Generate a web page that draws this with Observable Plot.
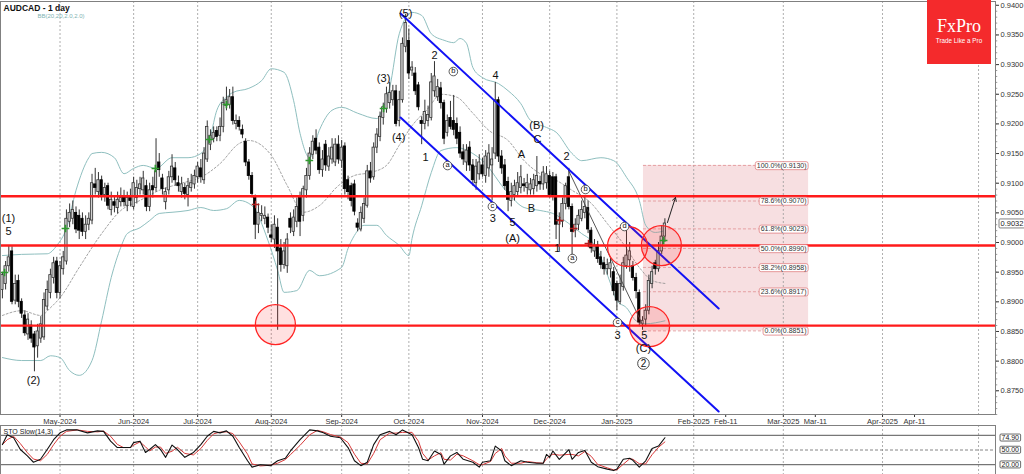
<!DOCTYPE html>
<html><head><meta charset="utf-8">
<script src="https://cdn.jsdelivr.net/npm/d3@7"></script>
<script src="https://cdn.jsdelivr.net/npm/@observablehq/plot@0.6"></script>
<style>
body{margin:0;background:#fff;font-family:"Liberation Sans",Arial,sans-serif;}
#wrap{position:relative;width:1024px;height:474px;overflow:hidden;background:#fff;}
#wrap svg{display:block;}
#logo{position:absolute;left:927px;top:0;width:64px;height:64px;background:#f42a2c;color:#fff;text-align:center;}
#logo .b{font-family:"Liberation Serif","DejaVu Serif",serif;font-size:18px;position:absolute;left:0;right:0;top:17px;line-height:18px;}
#logo .s{font-family:"Liberation Sans",Arial,sans-serif;font-size:6.3px;position:absolute;left:0;right:0;top:37px;}
</style></head><body><div id="wrap"><div id="logo"><div class="b">FxPro</div><div class="s">Trade Like a Pro</div></div></div>
<script>
// ---------- data ----------
const firstDay = "2024-04-05", lastDay = "2025-01-23";
const holidays = ["2024-12-25", "2025-01-01"];
const open = [.8920,.8930,.8960,.8985,.8902,.8935,.8900,.8877,.8845,.8860,.8845,.8825,.8838,.8840,.8892,.8915,.8940,.8968,.8915,.8955,
.8968,.9035,.9040,.9050,.9045,.9040,.9018,.9030,.9037,.9098,.9085,.9105,.9080,.9095,.9055,.9068,.9058,.9068,.9075,.9062,
.9075,.9060,.9075,.9090,.9088,.9095,.9060,.9095,.9092,.9135,.9108,.9068,.9088,.9110,.9125,.9100,.9085,.9092,.9080,.9092,
.9098,.9110,.9125,.9105,.9140,.9165,.9175,.9188,.9180,.9195,.9230,.9232,.9245,.9200,.9205,.9190,.9170,.9135,.9112,.9075,
.9030,.9045,.9040,.9042,.9012,.9005,.9025,.8990,.8962,.8960,.9040,.9018,.9035,.9075,.9045,.9088,.9112,.9148,.9175,.9160,
.9122,.9165,.9128,.9140,.9135,.9165,.9138,.9162,.9105,.9095,.9098,.9032,.9022,.9040,.9062,.9120,.9110,.9160,.9178,.9210,
.9225,.9235,.9240,.9255,.9205,.9240,.9330,.9340,.9290,.9285,.9265,.9205,.9200,.9205,.9210,.9255,.9245,.9260,.9235,.9185,
.9210,.9205,.9200,.9185,.9152,.9135,.9160,.9130,.9100,.9115,.9130,.9112,.9125,.9130,.9150,.9240,.9145,.9130,.9102,.9070,
.9080,.9085,.9092,.9098,.9092,.9088,.9090,.9095,.9102,.9098,.9100,.9112,.9110,.9110,.9030,.9035,.9065,.9110,.9060,.9020,
.9030,.9040,.9050,.9058,.9020,.8985,.8995,.8975,.8965,.8955,.8955,.8950,.8930,.8900,.8925,.8960,.8970,.8960,.8940,.8915,
.8862,.8870,.8885,.8930,.8965,.8955,.8985,.9010];
const high = [.8950,.8968,.8995,.8993,.8945,.8945,.8905,.8885,.8880,.8868,.8850,.8862,.8875,.8915,.8935,.8955,.8975,.8975,.8968,.8985,
.9055,.9065,.9070,.9060,.9055,.9050,.9045,.9050,.9115,.9125,.9118,.9112,.9100,.9100,.9085,.9078,.9085,.9092,.9088,.9085,
.9090,.9110,.9105,.9110,.9120,.9105,.9100,.9110,.9175,.9150,.9115,.9092,.9120,.9148,.9135,.9112,.9110,.9100,.9108,.9115,
.9122,.9135,.9140,.9160,.9205,.9190,.9195,.9195,.9210,.9245,.9262,.9258,.9262,.9215,.9212,.9198,.9175,.9140,.9118,.9080,
.9065,.9062,.9060,.9048,.9030,.9045,.9040,.9005,.9000,.9015,.9050,.9055,.9075,.9085,.9095,.9125,.9160,.9180,.9190,.9168,
.9155,.9172,.9160,.9175,.9175,.9180,.9172,.9168,.9112,.9100,.9105,.9040,.9060,.9075,.9130,.9135,.9168,.9192,.9220,.9235,
.9262,.9270,.9265,.9265,.9255,.9345,.9385,.9360,.9305,.9295,.9270,.9212,.9240,.9230,.9285,.9305,.9275,.9270,.9240,.9215,
.9238,.9248,.9210,.9195,.9165,.9165,.9170,.9140,.9140,.9148,.9142,.9155,.9165,.9160,.9270,.9245,.9155,.9140,.9110,.9100,
.9105,.9118,.9130,.9108,.9115,.9108,.9115,.9145,.9112,.9128,.9128,.9120,.9118,.9115,.9050,.9075,.9100,.9125,.9065,.9040,
.9055,.9070,.9078,.9070,.9025,.9005,.9002,.8985,.8975,.8972,.8975,.8958,.8935,.8945,.8975,.9028,.9000,.8968,.8948,.8920,
.8875,.8895,.8945,.8960,.8970,.9000,.9028,.9040];
const low = [.8905,.8920,.8950,.8895,.8895,.8890,.8872,.8842,.8835,.8830,.8782,.8805,.8830,.8835,.8885,.8905,.8930,.8905,.8905,.8945,
.8962,.9025,.9030,.9015,.9005,.9010,.9005,.9020,.9030,.9080,.9075,.9070,.9068,.9055,.9045,.9050,.9048,.9060,.9060,.9052,
.9060,.9055,.9065,.9080,.9080,.9052,.9052,.9075,.9085,.9110,.9080,.9055,.9080,.9100,.9095,.9085,.9075,.9072,.9060,.9085,
.9090,.9100,.9100,.9098,.9135,.9155,.9168,.9170,.9170,.9185,.9222,.9225,.9198,.9190,.9188,.9175,.9128,.9105,.9075,.9005,
.9015,.9035,.9030,.9015,.9000,.8990,.8852,.8950,.8955,.8948,.9015,.9010,.9025,.9010,.9035,.9075,.9105,.9140,.9148,.9115,
.9110,.9120,.9120,.9132,.9128,.9132,.9125,.9080,.9072,.9060,.9045,.9018,.9018,.9032,.9058,.9100,.9105,.9150,.9170,.9198,
.9218,.9225,.9230,.9195,.9195,.9235,.9320,.9275,.9280,.9248,.9222,.9165,.9190,.9195,.9205,.9245,.9238,.9225,.9165,.9178,
.9190,.9180,.9165,.9142,.9130,.9120,.9120,.9095,.9088,.9105,.9110,.9100,.9110,.9070,.9140,.9135,.9115,.9088,.9052,.9060,
.9070,.9078,.9082,.9085,.9080,.9080,.9080,.9085,.9088,.9088,.9090,.9075,.9070,.9005,.8985,.9025,.9055,.9055,.8972,.9008,
.9020,.9035,.9040,.9015,.8982,.8975,.8965,.8955,.8945,.8945,.8940,.8910,.8885,.8895,.8918,.8955,.8950,.8935,.8905,.8858,
.8852,.8860,.8878,.8922,.8945,.8950,.8980,.9000];
const close = [.8945,.8960,.8975,.8900,.8930,.8900,.8880,.8847,.8870,.8838,.8823,.8850,.8862,.8903,.8920,.8945,.8965,.8915,.8960,.8975,
.9040,.9050,.9055,.9022,.9020,.9018,.9030,.9040,.9100,.9092,.9105,.9080,.9092,.9062,.9072,.9062,.9072,.9075,.9068,.9075,
.9070,.9100,.9092,.9098,.9108,.9060,.9088,.9088,.9120,.9122,.9090,.9085,.9110,.9128,.9105,.9095,.9098,.9082,.9095,.9100,
.9112,.9128,.9110,.9150,.9195,.9180,.9185,.9178,.9195,.9235,.9240,.9245,.9205,.9205,.9195,.9182,.9135,.9112,.9082,.9030,
.9050,.9048,.9045,.9025,.9008,.9030,.8985,.8962,.8985,.9005,.9025,.9042,.9060,.9035,.9090,.9112,.9150,.9170,.9155,.9122,
.9140,.9130,.9145,.9160,.9165,.9140,.9160,.9090,.9085,.9070,.9052,.9025,.9050,.9065,.9120,.9108,.9160,.9182,.9212,.9228,
.9250,.9252,.9255,.9200,.9240,.9335,.9370,.9285,.9295,.9255,.9228,.9200,.9220,.9215,.9270,.9280,.9262,.9235,.9175,.9205,
.9195,.9190,.9175,.9150,.9140,.9155,.9130,.9105,.9128,.9135,.9115,.9145,.9150,.9140,.9240,.9145,.9125,.9095,.9072,.9085,
.9095,.9100,.9110,.9095,.9100,.9098,.9105,.9112,.9098,.9118,.9115,.9080,.9078,.9030,.9038,.9065,.9095,.9060,.9018,.9030,
.9045,.9055,.9060,.9022,.8990,.8995,.8972,.8962,.8955,.8962,.8965,.8918,.8902,.8930,.8965,.8978,.8985,.8940,.8918,.8865,
.8868,.8885,.8935,.8950,.8955,.8985,.9010,.9032];

// Bollinger bands BB(20,20,2.0,2.0) (bar index, price)
const upperIdx = [0,6,14,17,20,23,27,28,31,35,38,41,44,48,53,58,62,65,67,70,72,77,81,84,88,91,93,96,99,103,106,111,117,119,121,124,128,131,134,138,141,143,145,147,150,155,158,162,165,170,173,178,181,187,191,195,199,201,204,207];
const upperVal = [.8978,.8980,.8981,.8995,.9024,.9088,.9143,.9150,.9152,.9143,.9116,.9125,.9130,.9125,.9143,.9143,.9150,.9180,.9223,.9245,.9253,.9260,.9273,.9293,.9287,.9239,.9184,.9143,.9189,.9223,.9228,.9218,.9209,.9228,.9261,.9352,.9388,.9383,.9352,.9341,.9337,.9344,.9336,.9295,.9278,.9268,.9256,.9234,.9206,.9194,.9186,.9150,.9138,.9143,.9138,.9110,.9071,.9029,.9017,.9020];
const midIdx = [0,6,12,15,18,24,31,37,43,49,56,62,68,74,77,84,89,94,99,105,110,115,120,124,128,133,137,142,147,152,158,163,168,173,178,184,189,194,199,203,207];
const midVal = [.8877,.8885,.8877,.8890,.8907,.8958,.9015,.9054,.9071,.9088,.9100,.9110,.9133,.9167,.9172,.9147,.9096,.9051,.9062,.9096,.9113,.9118,.9130,.9164,.9197,.9226,.9250,.9245,.9218,.9189,.9172,.9138,.9116,.9105,.9088,.9066,.9032,.8998,.8958,.8936,.8931];
const lowerIdx = [0,6,12,15,18,21,24,28,31,34,37,39,43,46,49,53,58,62,66,70,74,78,83,86,88,92,96,99,106,108,110,113,117,120,124,127,128,131,134,137,142,147,150,158,163,168,172,177,181,184,187,190,192,195,198,201,207];
const lowerVal = [.8806,.8801,.8801,.8809,.8806,.8784,.8776,.8801,.8868,.8941,.8992,.9015,.9025,.9037,.9049,.9051,.9054,.9059,.9054,.9057,.9071,.9062,.9003,.8953,.8916,.8919,.8953,.8944,.8958,.8990,.9012,.9029,.9029,.9012,.8995,.8978,.9007,.9062,.9118,.9155,.9160,.9150,.9138,.9083,.9059,.9054,.9049,.9032,.9015,.9003,.8975,.8931,.8902,.8890,.8868,.8863,.8868];

// Stochastic slow %K (14,3)
const stochIdx = [0,1.5,3.5,5.6,7.8,9.7,11.9,14,16,18,20,23.4,26.6,29.7,31.6,33.8,35.9,37.8,40,41,43,44.7,46,47.8,49.4,51,53,54.7,57,59.7,62,64,66,68,70,72,74,76.6,78,80.6,83.8,86,88.4,90,93,96,98.4,100.3,102.5,105.6,
108,110,112,114,116,118,121,123,125,128,130,131.3,133,135,137,138,140,142,144,147,149,150,152.5,154,156,157,159,162,164,167,169,170,171,172,174,177,178,180,182,184,186,189,191,192,194,196,197,199,201,203,205,207];
const stochK = [61,81,75,51,38,25,31,51,71,85,91,91,85,89,88,68,55,55,55,65,68,45,51,61,51,35,60,51,35,45,61,78,88,85,89,78,55,28,15,20,18,28,33,48,71,91,89,85,78,75,
55,28,18,25,61,81,88,81,91,81,55,31,28,48,41,21,38,45,31,25,15,25,28,58,48,28,18,28,25,23,23,41,35,48,31,51,31,45,49,25,16,11,8,11,31,33,29,15,28,53,58,75];

// horizontal support / resistance levels
const levels = [0.9078, 0.8995, 0.8860];
// highlight circles
const circleIdx = [85.3, 195.3, 205.9, 202.2];
const circlePrice = [0.88617, 0.89933, 0.89949, 0.88583];
// descending channel
const chanIdx = [124.4, 223.8];
const chanUpper = [0.93862, 0.88887];
const chanLower = [0.92108, 0.87150];
// thin trend line
const trendIdx = [176.9, 199.7];
const trendPrice = [0.91214, 0.88651];
// projection arrow
const arrowIdx = [207.8, 210.3];
const arrowPrice = [0.90337, 0.90759];
// Fibonacci retracement
const fibStartIdx = 200.3, fibEndIdx = 251.9;
const fibPct = ["100.0%", "78.6%", "61.8%", "50.0%", "38.2%", "23.6%", "0.0%"];
const fibPrice = [0.9130, 0.9070, 0.9023, 0.8990, 0.8958, 0.8917, 0.8851];
// Elliott wave labels
const waveText = ["(1)","5","(2)","(3)","(4)","(5)","2","1","4","3","5","(A)","A","B","(B)","C","2","1","3","5","(C)"];
const waveIdx = [1.9,1.9,9.7,119.1,123.8,126,135,132.2,154.1,153.2,159.4,159.4,162.2,165.3,166.9,167.2,176.3,173.4,192.2,200.6,200.3];
const wavePrice = [.90405,.90185,.87673,.92766,.91771,.93862,.93153,.91433,.92816,.90405,.90337,.90067,.91484,.90573,.91973,.91737,.91450,.89899,.88432,.88432,.88213];
const circText = ["a","b","c","a","b","d","c"];
const circIdx = [139.1,140.9,153.1,178.1,182.2,194.4,192.2];
const circPrice = [.91298,.92883,.90607,.89730,.90894,.90270,.88651];
const bigCircText = ["2"];
const bigCircIdx = [200.3];
const bigCircPrice = [.87960];
// signal markers
const greenIdx = [0.65,19.7,47.8,64.7,70,95.9,119.1,206.6];
const greenPrice = [.89494,.90236,.91248,.91737,.92327,.91383,.92260,.90034];
const redIdx = [79.1,174.1,178.5,183.1];
const redPrice = [.90641,.90371,.90236,.89983];
// axes
const tickLabels = ["May-2024","Jun-2024","Jul-2024","Aug-2024","Sep-2024","Oct-2024","Nov-2024","Dec-2024","Jan-2025","Feb-2025","Feb-11","Mar-2025","Mar-11","Apr-2025","Apr-11"];
const tickDates = ["2024-05-01","2024-06-01","2024-07-01","2024-08-01","2024-09-01","2024-10-01","2024-11-01","2024-12-01","2025-01-01","2025-02-01","2025-02-11","2025-03-01","2025-03-11","2025-04-01","2025-04-11"];
const gridDates = ["2024-05-01","2024-06-01","2024-07-01","2024-08-01","2024-09-01","2024-10-01","2024-11-01","2024-12-01","2025-01-01","2025-02-01","2025-03-01","2025-04-01","2025-05-01"];
const priceTicks = d3.range(0, 14).map(k => +(0.875 + k * 0.005).toFixed(3));
const lastPrice = 0.9032;
const stochLevels = [74.90, 50.00, 20.00];

// ---------- helpers ----------
const days = [];
for (let d = new Date(Date.parse(firstDay)); d <= new Date(Date.parse(lastDay)); d.setUTCDate(d.getUTCDate() + 1)) {
  const s = d.toISOString().slice(0, 10), w = d.getUTCDay();
  if (w !== 0 && w !== 6 && !holidays.includes(s)) days.push(s);
}
const lastIndex = close.length - 1;
function dateIndex(s) {
  if (s <= lastDay) return days.findIndex(t => t >= s);
  return lastIndex + Math.round((Date.parse(s) - Date.parse(lastDay)) / 864e5);
}
const tickIdx = tickDates.map(dateIndex);
const tickName = new Map(tickIdx.map((v, k) => [v, tickLabels[k]]));
const gridIdx = gridDates.map(dateIndex);

const bars = close.map((c, i) => ({i, o: open[i], h: high[i], l: low[i], c}));
const ups = bars.filter(d => d.c >= d.o), downs = bars.filter(d => d.c < d.o);
const pts = (xs, ys) => xs.map((x, k) => ({x, y: ys[k]}));

const XD = [-0.6, 310.3];
const YD = [0.8710, 0.94064];
const font = "Liberation Sans, Arial, sans-serif";

const fibTexts = fibPct.map((p, k) => `${p}(${fibPrice[k].toFixed(4)})`);

const main = Plot.plot({
  width: 1024, height: 425,
  marginTop: 1, marginBottom: 11, marginLeft: 0, marginRight: 29,
  style: {fontFamily: font, fontSize: "7.5px", background: "#fff", overflow: "visible", color: "#333"},
  x: {domain: XD, ticks: tickIdx, tickFormat: i => tickName.get(i), tickSize: 3, tickPadding: 1, label: null},
  y: {domain: YD, axis: "right", ticks: priceTicks, tickFormat: d => d.toFixed(4), tickSize: 3, tickPadding: 2, label: null},
  marks: [
    Plot.rect([0], {x1: fibStartIdx, x2: fibEndIdx, y1: fibPrice[6], y2: fibPrice[0], fill: "#f7dfe1"}),
    Plot.ruleX(gridIdx, {stroke: "#9a9a9a", strokeDasharray: "2,2", strokeWidth: 0.8}),
    Plot.ruleY(fibPrice, {x1: fibStartIdx, x2: fibEndIdx, stroke: "#e08f92", strokeDasharray: "3,2", strokeWidth: 0.8}),
    Plot.ruleY(d3.range(871, 941).map(v => v / 1000), {x1: XD[1], x2: XD[1] + 0.7, stroke: "#555", strokeWidth: 0.6}),
    Plot.line(pts(upperIdx, upperVal), {x: "x", y: "y", stroke: "#8fbfbf", strokeWidth: 1, curve: "monotone-x"}),
    Plot.line(pts(lowerIdx, lowerVal), {x: "x", y: "y", stroke: "#8fbfbf", strokeWidth: 1, curve: "monotone-x"}),
    Plot.line(pts(midIdx, midVal), {x: "x", y: "y", stroke: "#8a8a8a", strokeWidth: 0.8, strokeDasharray: "2,2", curve: "monotone-x"}),
    Plot.ruleX(bars, {x: "i", y1: "l", y2: "h", stroke: "#333", strokeWidth: 1}),
    Plot.rect(ups, {x1: d => d.i - 0.36, x2: d => d.i + 0.36, y1: "o", y2: "c", fill: "#d2d2d2", stroke: "#333", strokeWidth: 0.8}),
    Plot.rect(downs, {x1: d => d.i - 0.36, x2: d => d.i + 0.36, y1: "c", y2: "o", fill: "#000", stroke: "#000", strokeWidth: 0.8}),
    Plot.line(pts(trendIdx, trendPrice), {x: "x", y: "y", stroke: "#444", strokeWidth: 0.9}),
    Plot.ruleY(levels, {stroke: "#ff1a1a", strokeWidth: 2.3}),
    Plot.line(pts(chanIdx, chanUpper), {x: "x", y: "y", stroke: "#1212f5", strokeWidth: 2}),
    Plot.line(pts(chanIdx, chanLower), {x: "x", y: "y", stroke: "#1212f5", strokeWidth: 2}),
    Plot.dot(pts(circleIdx, circlePrice), {x: "x", y: "y", r: 20, fill: "#ff2020", fillOpacity: 0.14, stroke: "#ff2424", strokeWidth: 1.3}),
    Plot.dot(pts(greenIdx, greenPrice), {x: "x", y: "y", symbol: "plus", r: 2.6, stroke: "#2e9a2e", strokeWidth: 1.7}),
    Plot.dot(pts(redIdx, redPrice), {x: "x", y: "y", symbol: "plus", r: 2.6, stroke: "#b02020", strokeWidth: 1.3}),
    Plot.arrow([0], {x1: arrowIdx[0], y1: arrowPrice[0], x2: arrowIdx[1], y2: arrowPrice[1], stroke: "#222", strokeWidth: 1, headLength: 6}),
    Plot.text(waveText, {x: (d, k) => waveIdx[k], y: (d, k) => wavePrice[k], text: d => d, fontSize: 11, fill: "#111", fontFamily: font}),
    Plot.dot(circText, {x: (d, k) => circIdx[k], y: (d, k) => circPrice[k], r: 4.3, fill: "#fff", stroke: "#333", strokeWidth: 0.8}),
    Plot.text(circText, {x: (d, k) => circIdx[k], y: (d, k) => circPrice[k], text: d => d, fontSize: 7.5, fill: "#111", dy: -0.5}),
    Plot.dot(bigCircText, {x: (d, k) => bigCircIdx[k], y: (d, k) => bigCircPrice[k], r: 5.8, fill: "#fff", stroke: "#333", strokeWidth: 0.9}),
    Plot.text(bigCircText, {x: (d, k) => bigCircIdx[k], y: (d, k) => bigCircPrice[k], text: d => d, fontSize: 10, fill: "#111"}),
    Plot.text(fibTexts, {x: fibEndIdx, y: (d, k) => fibPrice[k], text: d => d, textAnchor: "end", dx: -2, fontSize: 7, fill: "#333"}),
    Plot.text([lastPrice], {x: XD[1], y: d => d, text: d => d.toFixed(4), textAnchor: "start", dx: 5, fontSize: 7.5, fill: "#222"}),
    Plot.text(["AUDCAD - 1 day"], {frameAnchor: "top-left", dx: 3, dy: 3, fontSize: 8.5, fontWeight: "bold", fill: "#111"}),
    Plot.text(["BB(20,20,2.0,2.0)"], {frameAnchor: "top-left", dx: 37, dy: 12, fontSize: 6, fill: "#7fb3b3"}),
    Plot.frame({stroke: "#808080", strokeWidth: 1})
  ]
});

const stochTexts = stochLevels.map(d => d.toFixed(2));
const stoch = Plot.plot({
  width: 1024, height: 49,
  marginTop: 0, marginBottom: 0, marginLeft: 0, marginRight: 29,
  style: {fontFamily: font, fontSize: "7px", background: "#fff", overflow: "visible", color: "#333"},
  x: {domain: XD, axis: null},
  y: {domain: [0, 100], axis: null},
  marks: [
    Plot.ruleX(gridIdx, {stroke: "#9a9a9a", strokeDasharray: "2,2", strokeWidth: 0.8}),
    Plot.ruleY([80, 20], {stroke: "#555", strokeWidth: 1}),
    Plot.ruleY([50], {stroke: "#777", strokeDasharray: "3,2", strokeWidth: 0.9}),
    Plot.line(pts(stochIdx, stochK), Plot.windowY({k: 2, anchor: "end"}, {x: "x", y: "y", stroke: "#d83a3a", strokeWidth: 1})),
    Plot.line(pts(stochIdx, stochK), {x: "x", y: "y", stroke: "#111", strokeWidth: 1.1}),
    Plot.text(["STO Slow(14,3)"], {frameAnchor: "top-left", dx: 3, dy: 4, fontSize: 7, fill: "#222"}),
    Plot.text(stochTexts, {x: XD[1], y: (d, k) => stochLevels[k], text: d => d, textAnchor: "start", dx: 6, fontSize: 7, fill: "#222"}),
    Plot.frame({stroke: "#808080", strokeWidth: 1})
  ]
});

const wrap = document.getElementById("wrap");
wrap.insertBefore(stoch, wrap.firstChild);
wrap.insertBefore(main, stoch);

function boxText(svg, strings, stroke, rx, px, py) {
  const set = new Set(strings);
  svg.querySelectorAll("text").forEach(t => {
    if (!set.has(t.textContent) || t.closest("g[aria-label$='axis']")) return;
    const b = t.getBBox();
    const r = document.createElementNS("http://www.w3.org/2000/svg", "rect");
    r.setAttribute("x", b.x - px); r.setAttribute("y", b.y - py);
    r.setAttribute("width", b.width + 2 * px); r.setAttribute("height", b.height + 2 * py);
    r.setAttribute("rx", rx); r.setAttribute("fill", "#fff");
    r.setAttribute("stroke", stroke); r.setAttribute("stroke-width", 0.8);
    const tr = t.getAttribute("transform"); if (tr) r.setAttribute("transform", tr);
    t.parentNode.insertBefore(r, t);
  });
}
boxText(main, fibTexts, "#e07f82", 2, 1.5, 0);
boxText(main, [lastPrice.toFixed(4)], "#666", 1, 1.5, 0);
boxText(stoch, stochTexts, "#444", 1, 1.5, 0);
</script></body></html>
